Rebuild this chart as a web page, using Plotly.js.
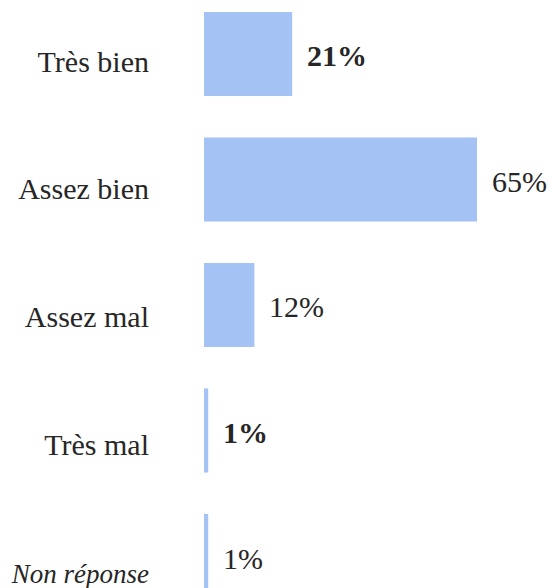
<!DOCTYPE html>
<html>
<head>
<meta charset="utf-8">
<script src="https://cdn.plot.ly/plotly-3.0.1.min.js"></script>
<style>html,body{margin:0;padding:0;background:#fff;}#chart{width:548px;height:588px;}</style>
</head>
<body>
<div id="chart"></div>
<script>
const categories = ['Très bien', 'Assez bien', 'Assez mal', 'Très mal', 'Non réponse'];
const values = [21, 65, 12, 1, 1];
const valueLabels = ['21%', '65%', '12%', '1%', '1%'];
const boldValue = [true, false, false, true, false];
const italicCategory = [false, false, false, false, true];

const FONT = '"Liberation Serif", "DejaVu Serif", serif';
const TXT = '#262626';

const bars = {
  type: 'bar', orientation: 'h',
  x: values, y: categories,
  marker: {color: '#a4c2f4'},
  hoverinfo: 'skip', showlegend: false
};
const labelIdx = categories.map((c, i) => i);
const anchorTrace = {
  type: 'scatter', mode: 'markers',
  x: values, y: labelIdx, yaxis: 'y2',
  marker: {opacity: 0}, hoverinfo: 'skip', showlegend: false
};

const annotations = categories.map((c, i) => ({
  x: values[i], y: c, xref: 'x', yref: 'y',
  xanchor: 'left', yanchor: 'middle', xshift: 13, yshift: -2,
  showarrow: false,
  text: boldValue[i] ? '<b>' + valueLabels[i] + '</b>' : valueLabels[i],
  font: {family: FONT, size: 30, color: TXT}
}));

const layout = {
  width: 548, height: 588,
  margin: {l: 204, r: 8, t: 0, b: 0, pad: 0},
  paper_bgcolor: '#fff', plot_bgcolor: '#fff',
  showlegend: false, hovermode: false,
  bargap: 0.33,
  xaxis: {range: [0, 80], visible: false, fixedrange: true},
  yaxis: {
    type: 'category', range: [4.255, -0.430],
    showticklabels: false, showgrid: false, zeroline: false, showline: false, ticks: '', fixedrange: true
  },
  yaxis2: {
    type: 'linear', overlaying: 'y', side: 'left',
    range: [4.125, -0.4775],
    tickmode: 'array', tickvals: labelIdx,
    ticktext: categories.map((c, i) => italicCategory[i] ? '<span style="font-size:27px"><i>' + c + '</i></span>' : c),
    showgrid: false, zeroline: false, showline: false,
    ticks: 'outside', ticklen: 48, tickcolor: 'rgba(0,0,0,0)',
    ticklabeloverflow: 'allow',
    tickfont: {family: FONT, size: 30, color: TXT}, fixedrange: true
  },
  annotations: annotations,
  font: {family: FONT, color: TXT}
};

Plotly.newPlot('chart', [bars, anchorTrace], layout, {displayModeBar: false, staticPlot: true});
</script>
</body>
</html>
